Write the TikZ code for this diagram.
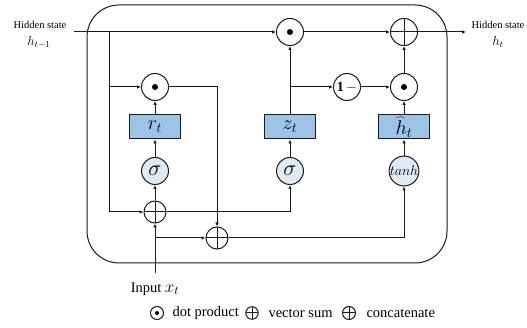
\RequirePackage{fix-cm}
\documentclass[tikz,border=0pt]{standalone}
\usepackage{fontspec}
\setmainfont{Liberation Serif}
\usetikzlibrary{arrows.meta}
\definecolor{boxblue}{HTML}{9DC3E6}
\definecolor{actblue}{HTML}{DEEBF7}
\definecolor{edge}{HTML}{1A1A1A}
\begin{document}
\begin{tikzpicture}[x=1pt,y=-1pt,
  line width=1pt, draw=edge,
  arr/.style={-{Latex[length=4pt,width=3.5pt]}},
  opc/.style={circle,draw,minimum size=27pt,inner sep=0pt},
  dotop/.style={opc,path picture={\fill (path picture bounding box.center) circle (3pt);}},
  legdot/.style={opc,minimum size=13pt,path picture={\fill (path picture bounding box.center) circle (2pt);}},
  plusop/.style={opc,path picture={\draw (path picture bounding box.north)--(path picture bounding box.south) (path picture bounding box.west)--(path picture bounding box.east);}},
  catop/.style={plusop,minimum size=22pt},
  legplus/.style={plusop,minimum size=12.5pt},
  gatebox/.style={draw,fill=boxblue,minimum width=51pt,minimum height=24pt,inner sep=0pt,font=\fontsize{20}{20}\selectfont},
  actc/.style={opc,fill=actblue,font=\fontsize{22}{22}\selectfont},
  lbl/.style={font=\fontsize{10.5}{12}\selectfont, inner sep=0pt},
  mlbl/.style={font=\fontsize{13}{13}\selectfont, inner sep=0pt},
  big/.style={font=\fontsize{14.5}{16}\selectfont, inner sep=0pt}
]
\useasboundingbox (0,0) rectangle (527,328);
% cell
\draw[rounded corners=32pt] (87,5) rectangle (447,263);
% operators
\node[dotop] (dtop) at (290,32) {};
\node[plusop] (ptop) at (404,32) {};
\node[dotop] (dr) at (155,87) {};
\node[opc,font=\fontsize{14}{14}\selectfont] (one) at (347,87) {$\mathbf{1}\,{-}$};
\node[dotop] (dh) at (404,87) {};
\node[gatebox] (rbox) at (155,127) {$r_t$};
\node[gatebox] (zbox) at (290,127) {$z_t$};
\node[gatebox] (hbox) at (404,127) {$\widehat{h}_t$};
\node[actc] (sr) at (155,171) {$\sigma$};
\node[actc] (sz) at (290,171) {$\sigma$};
\node[actc,font=\fontsize{14}{14}\selectfont] (th) at (404,171) {$tanh$};
\node[catop] (cat) at (155,212) {};
\node[catop] (vsum) at (217,238) {};
% free ends and junctions
\coordinate (hin) at (74,32);
\coordinate (hout) at (466,32);
\coordinate (xin) at (155,273);
\coordinate (j1) at (109,32);
\coordinate (j2) at (290,87);
\coordinate (j3) at (155,238);
% connectors
\draw[arr] (hin) -- (dtop);
\draw[arr] (dtop) -- (ptop);
\draw[arr] (ptop) -- (hout);
\draw[arr] (j1) |- (cat);
\draw[arr] (j1 |- dr) -- (dr);
\draw[arr] (cat) -- (sr);
\draw[arr] (sr) -- (rbox);
\draw[arr] (rbox) -- (dr);
\draw[arr] (dr) -| (vsum);
\draw[arr] (cat) -| (sz);
\draw[arr] (sz) -- (zbox);
\draw[arr] (zbox) -- (dtop);
\draw[arr] (j2) -- (one);
\draw[arr] (one) -- (dh);
\draw[arr] (th) -- (hbox);
\draw[arr] (hbox) -- (dh);
\draw[arr] (dh) -- (ptop);
\draw[arr] (xin) -- (cat);
\draw[arr] (j3) -- (vsum);
\draw[arr] (vsum) -| (th);
% labels
\node[lbl] (hl1) at (40,25) {Hidden state};
\node[mlbl] (hl2) at (39,42) {$h_{t-1}$};
\node[lbl] (hr1) at (498,25) {Hidden state};
\node[mlbl] (hr2) at (498,42) {$h_t$};
\node[big] (inl) at (155,289) {Input {\fontsize{17}{17}\selectfont$x_t$}};
% legend
\node[legdot] (lg1) at (157,313) {};
\node[big,anchor=west] (lt1) at (172,313) {dot product};
\node[legplus] (lg2) at (252,313) {};
\node[big,anchor=west] (lt2) at (268,313) {vector sum};
\node[legplus,minimum size=13pt] (lg3) at (349,313) {};
\node[big,anchor=west] (lt3) at (366,313) {concatenate};
\end{tikzpicture}
\end{document}
